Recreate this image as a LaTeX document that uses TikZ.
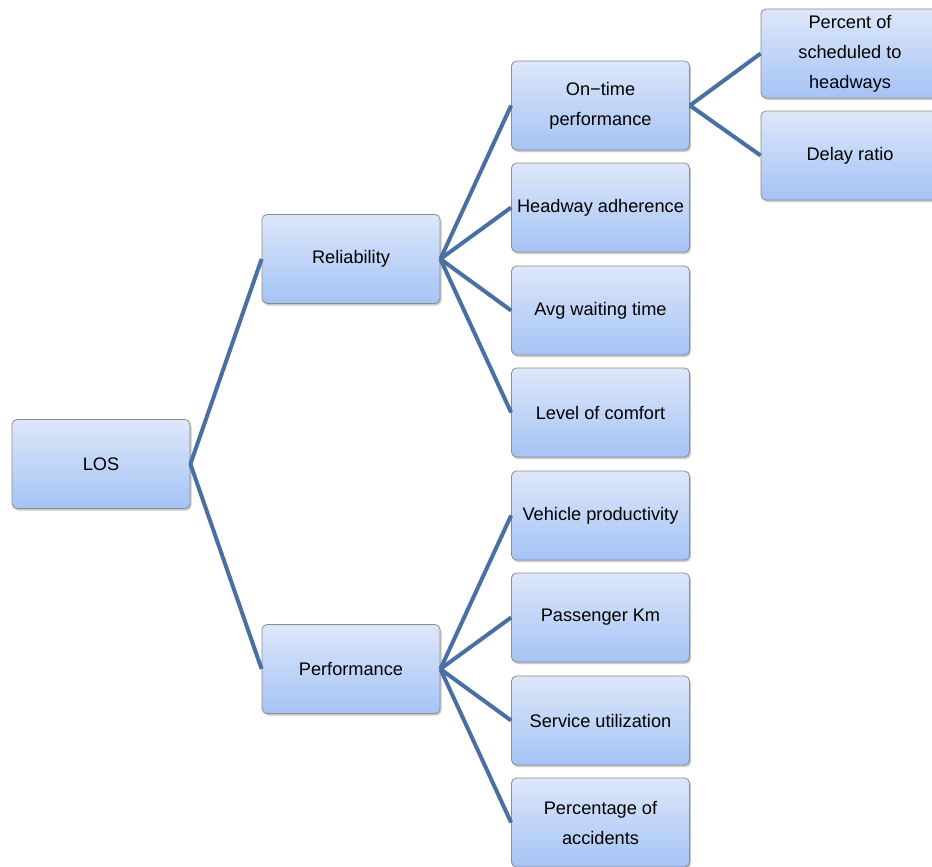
\documentclass[tikz,border=0pt]{standalone}
\usepackage{fontspec}
\setmainfont{Liberation Sans}
\usetikzlibrary{shadows}
\definecolor{boxtop}{HTML}{DDE7F9}
\definecolor{boxbot}{HTML}{A5C3F6}
\definecolor{boxline}{HTML}{8C8C8C}
\definecolor{conn}{HTML}{4A6FA5}
\begin{document}
\begin{tikzpicture}[x=1pt,y=-1pt,
  box/.style={draw=boxline, line width=0.8pt, rounded corners=5pt,
    top color=boxtop, bottom color=boxbot, minimum width=178pt, minimum height=89pt,
    align=center, font=\fontsize{18.2}{30}\selectfont, inner sep=2pt,
    drop shadow={shadow xshift=1.5pt, shadow yshift=-2pt, opacity=0.35, fill=black!60}},
  link/.style={draw=conn, line width=4pt}]
\useasboundingbox (0,0) rectangle (932,867);
\node[box] (los) at (101,464) {LOS};
\node[box] (rel) at (351,259) {Reliability};
\node[box] (perf) at (351,669) {Performance};
\node[box] (ont) at (600.5,105.5) {On−time\\performance};
\node[box] (head) at (600.5,207.5) {Headway adherence};
\node[box] (avg) at (600.5,310.5) {Avg waiting time};
\node[box] (com) at (600.5,412.5) {Level of comfort};
\node[box] (veh) at (600.5,515.5) {Vehicle productivity};
\node[box] (pkm) at (600.5,617.5) {Passenger Km};
\node[box] (srv) at (600.5,720.5) {Service utilization};
\node[box] (acc) at (600.5,822.5) {Percentage of\\accidents};
\node[box] (pct) at (850,53.5) {Percent of\\scheduled to\\headways};
\node[box] (del) at (850,155.5) {Delay ratio};
\foreach \c in {rel,perf} \draw[link] (los.east) -- (\c.west);
\foreach \c in {ont,head,avg,com} \draw[link] (rel.east) -- (\c.west);
\foreach \c in {veh,pkm,srv,acc} \draw[link] (perf.east) -- (\c.west);
\foreach \c in {pct,del} \draw[link] (ont.east) -- (\c.west);
\end{tikzpicture}
\end{document}
